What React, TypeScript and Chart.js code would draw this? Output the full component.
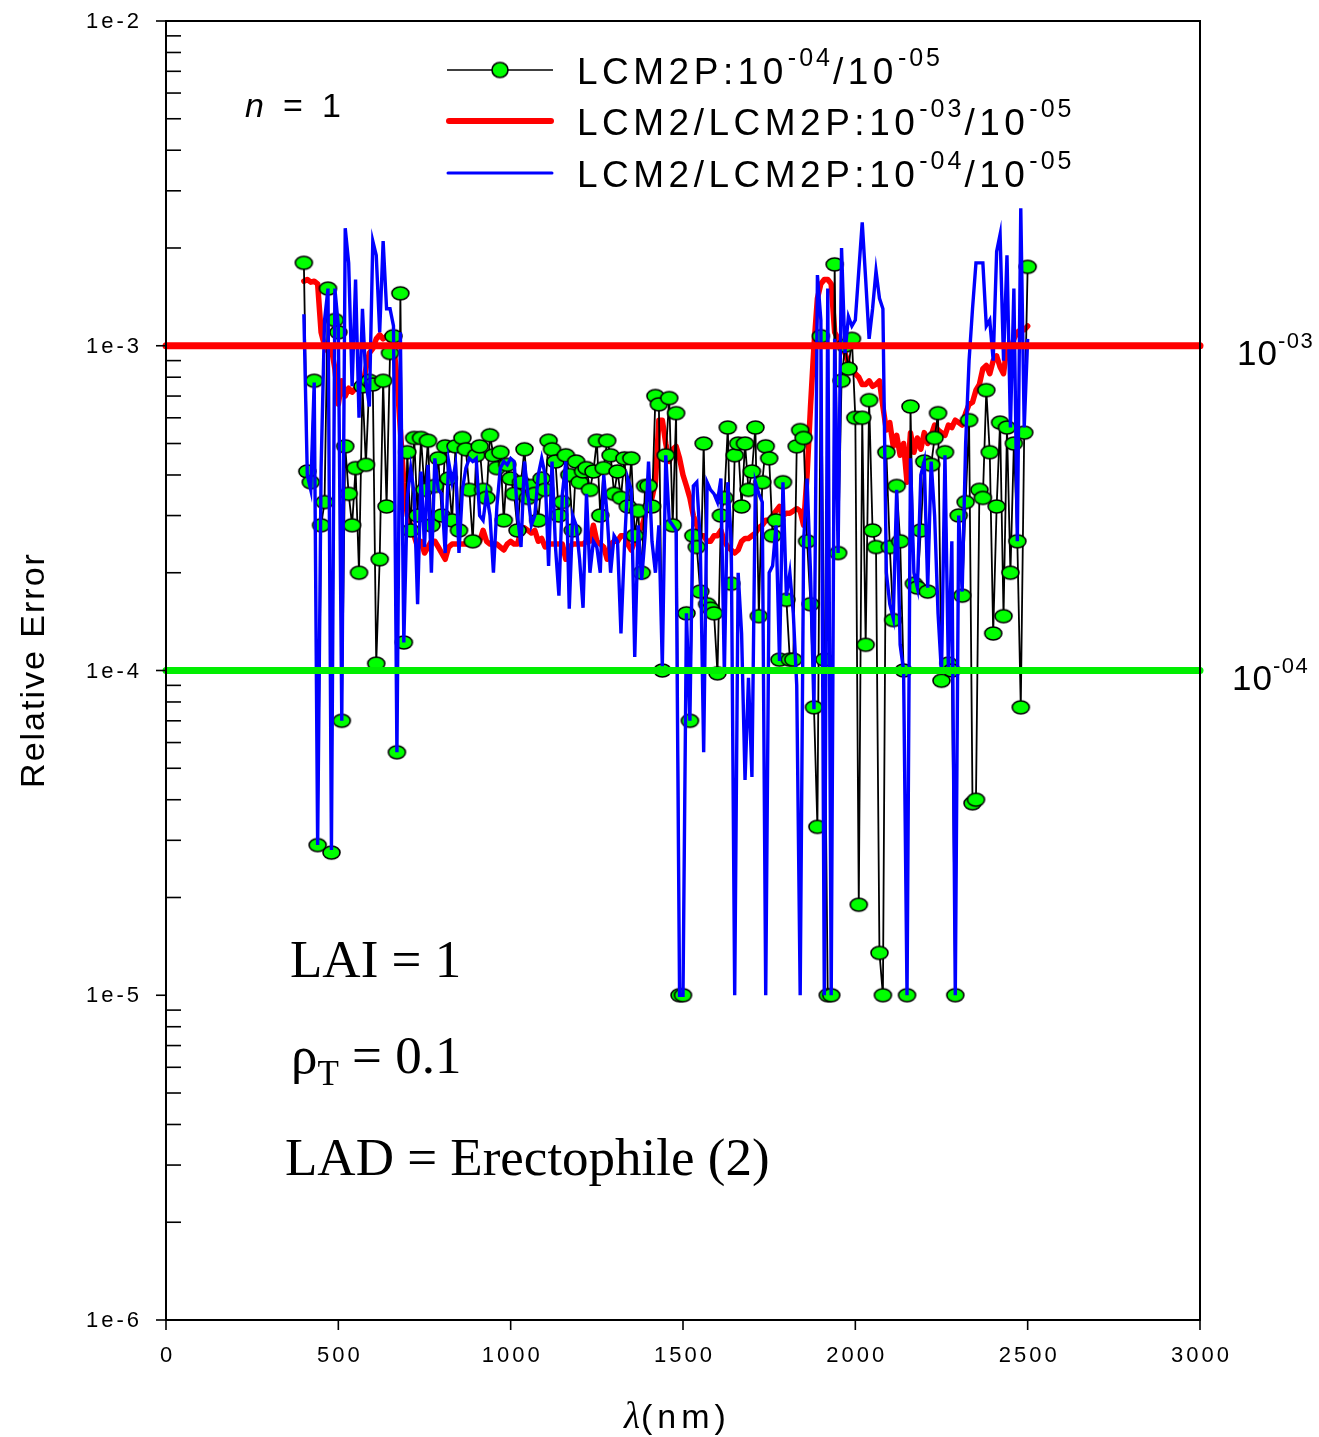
import React, { useEffect, useRef } from "react";
import { Chart, registerables } from "chart.js";

Chart.register(...registerables);

// Wavelength grid (nm)
const wavelengths = [
  400, 410, 420, 430, 440, 450, 460, 470, 480, 490,
  500, 510, 520, 530, 540, 550, 560, 570, 580, 590,
  600, 610, 620, 630, 640, 650, 660, 670, 680, 690,
  700, 710, 720, 730, 740, 750, 760, 770, 780, 790,
  800, 810, 820, 830, 840, 850, 860, 870, 880, 890,
  900, 910, 920, 930, 940, 950, 960, 970, 980, 990,
  1000, 1010, 1020, 1030, 1040, 1050, 1060, 1070, 1080, 1090,
  1100, 1110, 1120, 1130, 1140, 1150, 1160, 1170, 1180, 1190,
  1200, 1210, 1220, 1230, 1240, 1250, 1260, 1270, 1280, 1290,
  1300, 1310, 1320, 1330, 1340, 1350, 1360, 1370, 1380, 1390,
  1400, 1410, 1420, 1430, 1440, 1450, 1460, 1470, 1480, 1490,
  1500, 1510, 1520, 1530, 1540, 1550, 1560, 1570, 1580, 1590,
  1600, 1610, 1620, 1630, 1640, 1650, 1660, 1670, 1680, 1690,
  1700, 1710, 1720, 1730, 1740, 1750, 1760, 1770, 1780, 1790,
  1800, 1810, 1820, 1830, 1840, 1850, 1860, 1870, 1880, 1890,
  1900, 1910, 1920, 1930, 1940, 1950, 1960, 1970, 1980, 1990,
  2000, 2010, 2020, 2030, 2040, 2050, 2060, 2070, 2080, 2090,
  2100, 2110, 2120, 2130, 2140, 2150, 2160, 2170, 2180, 2190,
  2200, 2210, 2220, 2230, 2240, 2250, 2260, 2270, 2280, 2290,
  2300, 2310, 2320, 2330, 2340, 2350, 2360, 2370, 2380, 2390,
  2400, 2410, 2420, 2430, 2440, 2450, 2460, 2470, 2480, 2490,
  2500,
];

// LCM2P: 1e-4 / 1e-5 (black line, green markers)
const lcm2pErr = [
  1.8e-3, 4.1e-4, 3.8e-4, 7.8e-4, 2.9e-5, 2.8e-4, 3.3e-4, 1.5e-3, 2.75e-5, 1.2e-3,
  1.1e-3, 7.0e-5, 4.9e-4, 3.5e-4, 2.8e-4, 4.2e-4, 2.0e-4, 7.5e-4, 4.3e-4, 7.8e-4,
  7.6e-4, 1.05e-4, 2.2e-4, 7.8e-4, 3.2e-4, 9.5e-4, 1.07e-3, 5.6e-5, 1.45e-3, 1.22e-4,
  4.7e-4, 2.7e-4, 5.2e-4, 3.0e-4, 5.2e-4, 3.6e-4, 5.1e-4, 2.8e-4, 3.7e-4, 4.5e-4,
  3.0e-4, 4.9e-4, 3.9e-4, 2.9e-4, 4.9e-4, 2.7e-4, 5.2e-4, 4.8e-4, 3.6e-4, 2.5e-4,
  4.6e-4, 4.9e-4, 3.6e-4, 3.4e-4, 5.3e-4, 4.6e-4, 4.2e-4, 4.7e-4, 2.9e-4, 4.3e-4,
  3.9e-4, 3.5e-4, 2.7e-4, 3.8e-4, 4.8e-4, 3.4e-4, 3.7e-4, 3.5e-4, 2.9e-4, 3.9e-4,
  3.6e-4, 5.1e-4, 4.8e-4, 4.4e-4, 3.0e-4, 3.3e-4, 4.6e-4, 4.0e-4, 2.7e-4, 4.4e-4,
  3.8e-4, 4.1e-4, 4.2e-4, 3.6e-4, 4.1e-4, 5.1e-4, 3.0e-4, 4.2e-4, 5.1e-4, 4.6e-4,
  3.5e-4, 4.1e-4, 3.4e-4, 4.5e-4, 3.2e-4, 4.5e-4, 2.6e-4, 3.1e-4, 2.0e-4, 3.7e-4,
  3.7e-4, 3.2e-4, 7.0e-4, 6.6e-4, 1.0e-4, 4.6e-4, 6.9e-4, 2.8e-4, 6.2e-4, 1.0e-5,
  1.0e-5, 1.5e-4, 7.0e-5, 2.6e-4, 2.4e-4, 1.75e-4, 5.0e-4, 1.6e-4, 1.55e-4, 1.5e-4,
  9.8e-5, 3.0e-4, 3.4e-4, 5.6e-4, 1.85e-4, 4.6e-4, 5.0e-4, 3.2e-4, 5.0e-4, 3.6e-4,
  4.1e-4, 5.6e-4, 1.47e-4, 3.8e-4, 4.9e-4, 4.5e-4, 2.6e-4, 2.9e-4, 1.08e-4, 3.8e-4,
  1.65e-4, 1.08e-4, 1.08e-4, 4.9e-4, 5.5e-4, 5.2e-4, 2.5e-4, 1.6e-4, 7.7e-5, 3.3e-5,
  1.07e-3, 1.08e-4, 1.0e-5, 1.0e-5, 1.78e-3, 2.3e-4, 7.8e-4, 1.0e-3, 8.5e-4, 1.05e-3,
  6.0e-4, 1.9e-5, 6.0e-4, 1.2e-4, 6.8e-4, 2.7e-4, 2.4e-4, 1.35e-5, 1.0e-5, 4.7e-4,
  2.4e-4, 1.43e-4, 3.7e-4, 2.5e-4, 1.0e-4, 1.0e-5, 6.5e-4, 1.85e-4, 1.8e-4, 2.7e-4,
  4.4e-4, 1.75e-4, 4.3e-4, 5.2e-4, 6.2e-4, 9.3e-5, 4.7e-4, 1.05e-4, 1.0e-4, 1.0e-5,
  3.0e-4, 1.7e-4, 3.3e-4, 5.9e-4, 3.9e-5, 4.0e-5, 3.6e-4, 3.4e-4, 7.3e-4, 4.7e-4,
  1.3e-4, 3.2e-4, 5.8e-4, 1.47e-4, 5.6e-4, 2.0e-4, 5.0e-4, 2.5e-4, 7.7e-5, 5.4e-4,
  1.75e-3,
];

// LCM2/LCM2P: 1e-3 / 1e-5 (thick red)
const lcm2Err3 = [
  1.58e-3, 1.6e-3, 1.57e-3, 1.58e-3, 1.55e-3, 1.1e-3, 1.0e-3, 9.6e-4, 9.8e-4, 8.5e-4,
  6.6e-4, 7.8e-4, 7.0e-4, 7.4e-4, 7.2e-4, 7.4e-4, 7.6e-4, 7.5e-4, 8.5e-4, 9.5e-4,
  9.8e-4, 1.05e-3, 1.08e-3, 1.05e-3, 1.07e-3, 1.04e-3, 1.02e-3, 8.0e-4, 5.5e-4, 3.8e-4,
  3.0e-4, 2.8e-4, 2.6e-4, 2.4e-4, 2.5e-4, 2.3e-4, 2.4e-4, 2.5e-4, 2.5e-4, 2.4e-4,
  2.3e-4, 2.2e-4, 2.4e-4, 2.45e-4, 2.45e-4, 2.45e-4, 2.45e-4, 2.45e-4, 2.45e-4, 2.45e-4,
  2.5e-4, 2.5e-4, 2.7e-4, 2.5e-4, 2.45e-4, 2.45e-4, 2.45e-4, 2.4e-4, 2.35e-4, 2.45e-4,
  2.5e-4, 2.45e-4, 2.45e-4, 2.7e-4, 2.75e-4, 2.7e-4, 2.65e-4, 2.7e-4, 2.5e-4, 2.55e-4,
  2.4e-4, 2.45e-4, 2.45e-4, 2.45e-4, 2.45e-4, 2.45e-4, 2.2e-4, 2.4e-4, 2.45e-4, 2.45e-4,
  2.45e-4, 2.45e-4, 2.5e-4, 2.5e-4, 2.8e-4, 2.5e-4, 2.45e-4, 2.4e-4, 2.2e-4, 2.45e-4,
  2.5e-4, 2.5e-4, 2.6e-4, 2.6e-4, 2.45e-4, 2.35e-4, 2.5e-4, 2.7e-4, 2.75e-4, 3.0e-4,
  3.6e-4, 3.4e-4, 3.8e-4, 5.9e-4, 5.9e-4, 5.0e-4, 4.4e-4, 4.8e-4, 4.9e-4, 4.5e-4,
  4.0e-4, 3.7e-4, 3.4e-4, 3.0e-4, 2.8e-4, 2.6e-4, 2.6e-4, 2.5e-4, 2.5e-4, 2.6e-4,
  2.6e-4, 2.7e-4, 2.5e-4, 2.4e-4, 2.35e-4, 2.3e-4, 2.35e-4, 2.5e-4, 2.55e-4, 2.55e-4,
  2.6e-4, 2.65e-4, 2.75e-4, 2.8e-4, 2.9e-4, 2.9e-4, 3.0e-4, 3.1e-4, 3.2e-4, 3.0e-4,
  3.05e-4, 3.05e-4, 3.1e-4, 3.15e-4, 3.1e-4, 2.8e-4, 4.0e-4, 6.5e-4, 1.0e-3, 1.4e-3,
  1.55e-3, 1.6e-3, 1.6e-3, 1.55e-3, 1.1e-3, 1.05e-3, 1.0e-3, 9.5e-4, 8.8e-4, 8.5e-4,
  8.2e-4, 8.0e-4, 7.6e-4, 7.6e-4, 7.8e-4, 7.5e-4, 7.6e-4, 7.8e-4, 6.5e-4, 5.5e-4,
  5.8e-4, 4.9e-4, 5.3e-4, 4.6e-4, 5.0e-4, 3.8e-4, 5.4e-4, 4.7e-4, 5.2e-4, 4.8e-4,
  5.4e-4, 5.0e-4, 5.3e-4, 5.7e-4, 5.5e-4, 5.4e-4, 5.3e-4, 5.7e-4, 5.6e-4, 5.9e-4,
  5.8e-4, 5.7e-4, 6.2e-4, 6.6e-4, 6.7e-4, 7.3e-4, 7.6e-4, 8.5e-4, 8.7e-4, 8.2e-4,
  9.0e-4, 9.3e-4, 8.6e-4, 8.2e-4, 1.0e-3, 9.6e-4, 1.05e-3, 1.1e-3, 1.12e-3, 1.12e-3,
  1.15e-3,
];

// LCM2/LCM2P: 1e-4 / 1e-5 (blue)
const lcm2Err4 = [
  1.25e-3, 4.0e-4, 3.6e-4, 7.7e-4, 2.9e-5, 4.2e-4, 1.2e-3, 1.5e-3, 2.8e-5, 1.5e-3,
  1.15e-3, 7.0e-5, 2.3e-3, 1.8e-3, 7.5e-4, 1.6e-3, 6.0e-4, 1.3e-3, 7.8e-4, 6.5e-4,
  2.1e-3, 1.9e-3, 1.1e-3, 2.1e-3, 1.3e-3, 1.3e-3, 1.15e-3, 5.6e-5, 1.1e-3, 1.22e-4,
  3.4e-4, 4.2e-4, 3.5e-4, 1.6e-4, 4.1e-4, 2.4e-4, 4.3e-4, 2.0e-4, 4.5e-4, 3.6e-4,
  3.5e-4, 2.3e-4, 4.4e-4, 3.8e-4, 4.3e-4, 2.3e-4, 3.6e-4, 4.2e-4, 4.5e-4, 4.4e-4,
  4.5e-4, 3.0e-4, 2.9e-4, 3.5e-4, 3.0e-4, 2.0e-4, 3.2e-4, 4.2e-4, 4.4e-4, 4.3e-4,
  4.5e-4, 4.4e-4, 3.0e-4, 2.4e-4, 4.4e-4, 3.5e-4, 2.8e-4, 3.0e-4, 4.0e-4, 4.5e-4,
  4.0e-4, 2.1e-4, 4.4e-4, 2.4e-4, 1.7e-4, 3.5e-4, 4.4e-4, 1.55e-4, 3.0e-4, 2.8e-4,
  2.2e-4, 1.56e-4, 3.5e-4, 2.0e-4, 2.5e-4, 2.4e-4, 2.0e-4, 4.0e-4, 3.0e-4, 2.0e-4,
  2.6e-4, 2.5e-4, 1.3e-4, 2.4e-4, 3.9e-4, 3.6e-4, 1.1e-4, 2.8e-4, 1.9e-4, 2.6e-4,
  4.4e-4, 2.5e-4, 2.0e-4, 2.8e-4, 1.03e-4, 4.6e-4, 2.9e-4, 2.8e-4, 2.7e-4, 1.0e-5,
  1.0e-5, 1.5e-4, 7.0e-5, 3.7e-4, 3.8e-4, 2.5e-4, 5.6e-5, 3.8e-4, 3.6e-4, 3.5e-4,
  3.3e-4, 3.9e-4, 9.8e-5, 3.8e-4, 2.5e-4, 1.0e-5, 2.0e-4, 1.3e-4, 4.6e-5, 9.5e-5,
  4.7e-5, 3.8e-4, 3.5e-4, 3.3e-4, 1.0e-5, 2.0e-4, 2.1e-4, 2.8e-4, 1.07e-4, 3.8e-4,
  1.7e-4, 2.0e-4, 1.5e-4, 9.0e-5, 1.0e-5, 2.5e-4, 3.9e-4, 2.0e-4, 7.6e-5, 1.65e-3,
  1.2e-3, 1.0e-5, 1.5e-3, 1.0e-5, 1.05e-3, 2.3e-4, 2.0e-3, 9.5e-4, 1.23e-3, 1.15e-3,
  1.2e-3, 1.7e-3, 2.4e-3, 1.6e-3, 1.05e-3, 1.3e-3, 1.7e-3, 1.4e-3, 1.3e-3, 2.0e-4,
  1.6e-4, 1.45e-4, 3.6e-4, 1.2e-4, 1.0e-4, 1.0e-5, 4.5e-4, 2.0e-4, 1.8e-4, 4.0e-4,
  4.4e-4, 1.8e-4, 4.4e-4, 3.0e-4, 1.5e-4, 9.8e-5, 4.6e-4, 1.0e-4, 2.5e-4, 1.0e-5,
  3.0e-4, 1.75e-4, 5.0e-4, 9.0e-4, 1.3e-3, 1.8e-3, 1.8e-3, 1.8e-3, 1.15e-3, 1.2e-3,
  9.0e-4, 1.95e-3, 2.2e-3, 9.0e-4, 1.9e-3, 5.6e-4, 1.5e-3, 2.5e-4, 2.65e-3, 5.6e-4,
  1.05e-3,
];

const thresholdValues = [1e-3, 1e-4];
const thresholdExponents = ["-03", "-04"];
const yDecades = [1e-2, 1e-3, 1e-4, 1e-5, 1e-6];
const yTickLabels = ["1e-2", "1e-3", "1e-4", "1e-5", "1e-6"];
const xTickValues = [0, 500, 1000, 1500, 2000, 2500, 3000];
const xTickLabels = ["0", "500", "1000", "1500", "2000", "2500", "3000"];
const legendEntries = [
  { base: "LCM2P:10", exp1: "-04", exp2: "-05" },
  { base: "LCM2/LCM2P:10", exp1: "-03", exp2: "-05" },
  { base: "LCM2/LCM2P:10", exp1: "-04", exp2: "-05" },
];

const SANS = "'Liberation Sans', Arial, sans-serif";
const SERIF = "'Liberation Serif', 'Times New Roman', serif";
const RED = "#ff0000";
const BLUE = "#0000ff";
const GREEN_LINE = "#00ee00";
const GREEN_FILL = "#00ff00";

function makeEllipse(w: number, h: number): HTMLCanvasElement {
  const c = document.createElement("canvas");
  c.width = w + 4;
  c.height = h + 4;
  const g = c.getContext("2d")!;
  g.beginPath();
  g.ellipse(c.width / 2, c.height / 2, w / 2, h / 2, 0, 0, Math.PI * 2);
  g.fillStyle = GREEN_FILL;
  g.fill();
  g.lineWidth = 1.6;
  g.strokeStyle = "#000";
  g.stroke();
  return c;
}

type Run = { text: string; font: string; dy?: number; sp?: number };

function drawRuns(ctx: CanvasRenderingContext2D, x: number, y: number, runs: Run[]) {
  let cx = x;
  const c: any = ctx;
  for (const r of runs) {
    ctx.font = r.font;
    c.letterSpacing = (r.sp || 0) + "px";
    ctx.fillText(r.text, cx, y + (r.dy || 0));
    cx += ctx.measureText(r.text).width;
  }
  c.letterSpacing = "0px";
  return cx;
}

function textWidth(ctx: CanvasRenderingContext2D, text: string, font: string, sp: number) {
  const c: any = ctx;
  ctx.font = font;
  c.letterSpacing = sp + "px";
  const w = ctx.measureText(text).width - sp;
  c.letterSpacing = "0px";
  return w;
}

export default function App() {
  const ref = useRef<HTMLCanvasElement>(null);

  useEffect(() => {
    const canvas = ref.current!;
    const marker = makeEllipse(17, 13);
    const legendMarker = makeEllipse(16, 15);
    const pts = (vals: number[]) => wavelengths.map((x, i) => ({ x, y: vals[i] }));

    const overlay = {
      id: "overlay",
      afterDraw(chart: any) {
        const ctx: CanvasRenderingContext2D = chart.ctx;
        const { left, right, top, bottom } = chart.chartArea;
        const xs = chart.scales.x;
        const ys = chart.scales.y;
        ctx.save();
        ctx.strokeStyle = "#000";
        ctx.fillStyle = "#000";
        ctx.lineCap = "butt";

        // frame
        ctx.lineWidth = 2;
        ctx.beginPath();
        ctx.moveTo(left, top);
        ctx.lineTo(right, top);
        ctx.lineTo(right, bottom);
        ctx.lineTo(left, bottom);
        ctx.closePath();
        ctx.stroke();

        // y ticks
        ctx.lineWidth = 1.6;
        for (const d of yDecades) {
          const yy = ys.getPixelForValue(d);
          ctx.beginPath();
          ctx.moveTo(left - 10, yy);
          ctx.lineTo(left, yy);
          ctx.stroke();
        }
        for (let i = 1; i < yDecades.length; i++) {
          const base = yDecades[i];
          for (let m = 2; m <= 9; m++) {
            const yy = ys.getPixelForValue(m * base);
            ctx.beginPath();
            ctx.moveTo(left, yy);
            ctx.lineTo(left + 15, yy);
            ctx.stroke();
          }
        }
        // x ticks
        for (const v of xTickValues) {
          const xx = xs.getPixelForValue(v);
          ctx.beginPath();
          ctx.moveTo(xx, bottom);
          ctx.lineTo(xx, bottom + 10);
          ctx.stroke();
        }

        // y labels
        const tickFont = `22px ${SANS}`;
        ctx.textBaseline = "middle";
        ctx.textAlign = "left";
        yDecades.forEach((d, i) => {
          const yy = ys.getPixelForValue(d);
          const w = textWidth(ctx, yTickLabels[i], tickFont, 3);
          drawRuns(ctx, 139 - w, yy + 1, [{ text: yTickLabels[i], font: tickFont, sp: 3 }]);
        });
        // x labels
        xTickValues.forEach((v, i) => {
          const xx = xs.getPixelForValue(v);
          const w = textWidth(ctx, xTickLabels[i], tickFont, 3);
          drawRuns(ctx, xx - w / 2, bottom + 36, [{ text: xTickLabels[i], font: tickFont, sp: 3 }]);
        });

        ctx.textBaseline = "alphabetic";
        // x title
        drawRuns(ctx, 624, 1428, [
          { text: "\u03bb", font: `italic 37px ${SERIF}`, sp: 1 },
          { text: "(nm)", font: `34px ${SANS}`, sp: 5 },
        ]);
        // y title
        ctx.save();
        ctx.translate(44, 671);
        ctx.rotate(-Math.PI / 2);
        const yt = "Relative Error";
        const ytw = textWidth(ctx, yt, `34px ${SANS}`, 2);
        drawRuns(ctx, -ytw / 2, 0, [{ text: yt, font: `34px ${SANS}`, sp: 2 }]);
        ctx.restore();

        // right threshold labels
        thresholdValues.forEach((v, i) => {
          const yy = ys.getPixelForValue(v);
          drawRuns(ctx, i === 0 ? 1237 : 1232, yy + 19, [
            { text: "10", font: `35px ${SANS}`, sp: 1 },
            { text: thresholdExponents[i], font: `22px ${SANS}`, dy: -17, sp: 1.5 },
          ]);
        });

        // legend
        const rows = [70, 121, 173];
        ctx.lineWidth = 1.6;
        ctx.strokeStyle = "#000";
        ctx.beginPath();
        ctx.moveTo(447, rows[0]);
        ctx.lineTo(553, rows[0]);
        ctx.stroke();
        ctx.drawImage(legendMarker, 500 - legendMarker.width / 2, rows[0] - legendMarker.height / 2);
        ctx.lineCap = "round";
        ctx.strokeStyle = RED;
        ctx.lineWidth = 6;
        ctx.beginPath();
        ctx.moveTo(449, rows[1]);
        ctx.lineTo(551, rows[1]);
        ctx.stroke();
        ctx.strokeStyle = BLUE;
        ctx.lineWidth = 3;
        ctx.beginPath();
        ctx.moveTo(448, rows[2]);
        ctx.lineTo(552, rows[2]);
        ctx.stroke();
        ctx.lineCap = "butt";

        ctx.fillStyle = "#000";
        const lf = `37px ${SANS}`;
        const sf = `25px ${SANS}`;
        legendEntries.forEach((e, i) => {
          drawRuns(ctx, 577, rows[i] + 14, [
            { text: e.base, font: lf, sp: 4.5 },
            { text: e.exp1, font: sf, dy: -18, sp: 3 },
            { text: "/10", font: lf, sp: 4.5 },
            { text: e.exp2, font: sf, dy: -18, sp: 3 },
          ]);
        });

        // n = 1
        ctx.font = `italic 34px ${SANS}`;
        ctx.fillText("n", 245, 117);
        ctx.font = `34px ${SANS}`;
        ctx.fillText("=", 283, 117);
        ctx.fillText("1", 322, 117);

        // annotations (serif)
        const af = `53px ${SERIF}`;
        ctx.font = af;
        ctx.fillText("LAI = 1", 290, 977);
        drawRuns(ctx, 291, 1073, [
          { text: "\u03c1", font: af },
          { text: "T", font: `35px ${SERIF}`, dy: 12 },
          { text: " = 0.1", font: af },
        ]);
        ctx.font = af;
        ctx.fillText("LAD = Erectophile (2)", 285, 1175);

        ctx.restore();
      },
    };

    const chart = new Chart(canvas, {
      type: "line",
      data: {
        datasets: [
          {
            label: "threshold 1e-3",
            data: [
              { x: 0, y: thresholdValues[0] },
              { x: 3000, y: thresholdValues[0] },
            ],
            borderColor: RED,
            borderWidth: 7,
            borderCapStyle: "round",
            pointRadius: 0,
            clip: false,
            order: 0,
          },
          {
            label: "threshold 1e-4",
            data: [
              { x: 0, y: thresholdValues[1] },
              { x: 3000, y: thresholdValues[1] },
            ],
            borderColor: GREEN_LINE,
            borderWidth: 7,
            borderCapStyle: "round",
            pointRadius: 0,
            clip: false,
            order: 1,
          },
          {
            label: "LCM2/LCM2P:10-04/10-05",
            data: pts(lcm2Err4),
            borderColor: BLUE,
            borderWidth: 3.4,
            borderJoinStyle: "miter",
            pointRadius: 0,
            order: 2,
          },
          {
            label: "LCM2P:10-04/10-05",
            data: pts(lcm2pErr),
            borderColor: "#000",
            borderWidth: 1.8,
            pointStyle: marker,
            pointRadius: 8,
            order: 3,
          },
          {
            label: "LCM2/LCM2P:10-03/10-05",
            data: pts(lcm2Err3),
            borderColor: RED,
            borderWidth: 5.5,
            borderJoinStyle: "round",
            borderCapStyle: "round",
            pointRadius: 0,
            order: 4,
          },
        ],
      } as any,
      options: {
        responsive: false,
        animation: false,
        devicePixelRatio: 1,
        layout: { padding: { top: 21, right: 119, left: 0, bottom: 0 } },
        plugins: { legend: { display: false }, tooltip: { enabled: false } },
        elements: { line: { tension: 0 } },
        scales: {
          x: {
            type: "linear",
            min: 0,
            max: 3000,
            grid: { display: false },
            border: { display: false },
            ticks: { display: false },
            afterFit: (s: any) => {
              s.height = 117;
            },
          },
          y: {
            type: "logarithmic",
            min: 1e-6,
            max: 1e-2,
            grid: { display: false },
            border: { display: false },
            ticks: { display: false },
            afterFit: (s: any) => {
              s.width = 166;
            },
          },
        },
      } as any,
      plugins: [overlay],
    });
    return () => chart.destroy();
  }, []);

  return (
    <div style={{ position: "absolute", left: 0, top: 0, width: 1319, height: 1437, background: "#fff" }}>
      <canvas ref={ref} width={1319} height={1437} style={{ display: "block", width: 1319, height: 1437 }} />
    </div>
  );
}
